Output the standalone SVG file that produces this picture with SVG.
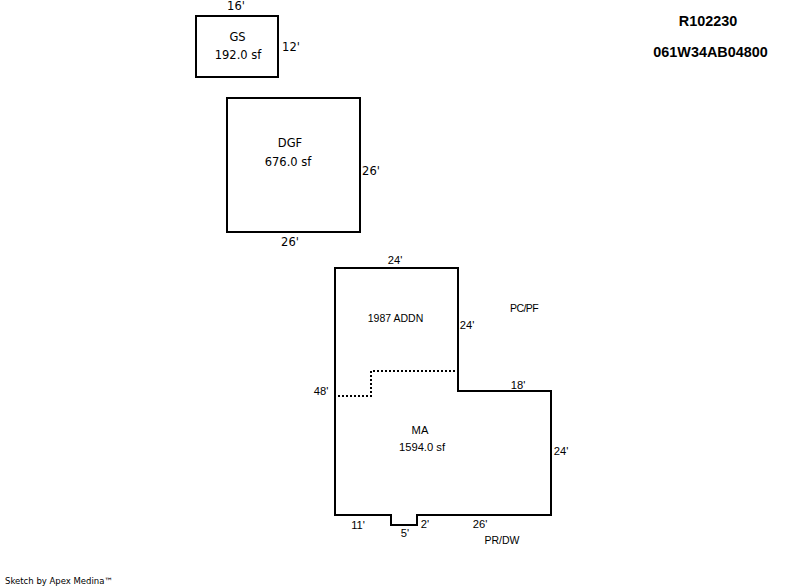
<svg xmlns="http://www.w3.org/2000/svg" width="800" height="587" viewBox="0 0 800 587">
<style>
.o{fill:none;stroke:#000;stroke-width:2}
.d{fill:none;stroke:#000;stroke-width:2;stroke-dasharray:2 2}
text{fill:#000;text-anchor:middle}
.v{font:11.5px "DejaVu Sans",sans-serif}
.a{font:10.5px "Liberation Sans",Arial,sans-serif}
.m{font:11.2px "Liberation Sans",Arial,sans-serif}
.b{font:bold 14.4px "Liberation Sans",Arial,sans-serif}
</style>
<rect width="800" height="587" fill="#fff"/>
<g id="GS">
<rect class="o" x="196" y="16" width="82" height="61"/>
<text class="v" x="237.500" y="41">GS</text>
<text class="v" x="238" y="59">192.0 sf</text>
<text class="v" x="236" y="10">16'</text>
<text class="v" x="291" y="51">12'</text>
</g>
<g id="DGF">
<rect class="o" x="227" y="98" width="133" height="134"/>
<text class="v" x="290" y="147">DGF</text>
<text class="v" x="288" y="166">676.0 sf</text>
<text class="v" x="371" y="175">26'</text>
<text class="v" x="290" y="246">26'</text>
</g>
<g id="MA">
<path class="o" d="M335 268H458V391H551V515H417V525H391V515H335Z"/>
<path class="d" d="M338 396H371V371H456"/>
<text class="m" x="395" y="264">24'</text>
<text class="a" x="395.500" y="322">1987 ADDN</text>
<text class="m" x="467" y="329">24'</text>
<text class="a" x="524" y="312" style="letter-spacing:-.6px">PC/PF</text>
<text class="m" x="518" y="389">18'</text>
<text class="m" x="321" y="395">48'</text>
<text class="m" x="420" y="434">MA</text>
<text class="m" x="422" y="451">1594.0 sf</text>
<text class="m" x="561" y="455">24'</text>
<text class="m" x="358" y="529">11'</text>
<text class="m" x="425" y="528">2'</text>
<text class="m" x="480" y="528">26'</text>
<text class="m" x="405" y="537">5'</text>
<text class="a" x="502" y="544">PR/DW</text>
</g>
<g id="title">
<text class="b" x="708" y="26">R102230</text>
<text class="b" x="710.500" y="57">061W34AB04800</text>
</g>
<g id="credit">
<text class="v" x="59" y="584" style="font-size:8.5px">Sketch by Apex Medina™</text>
</g>
</svg>
